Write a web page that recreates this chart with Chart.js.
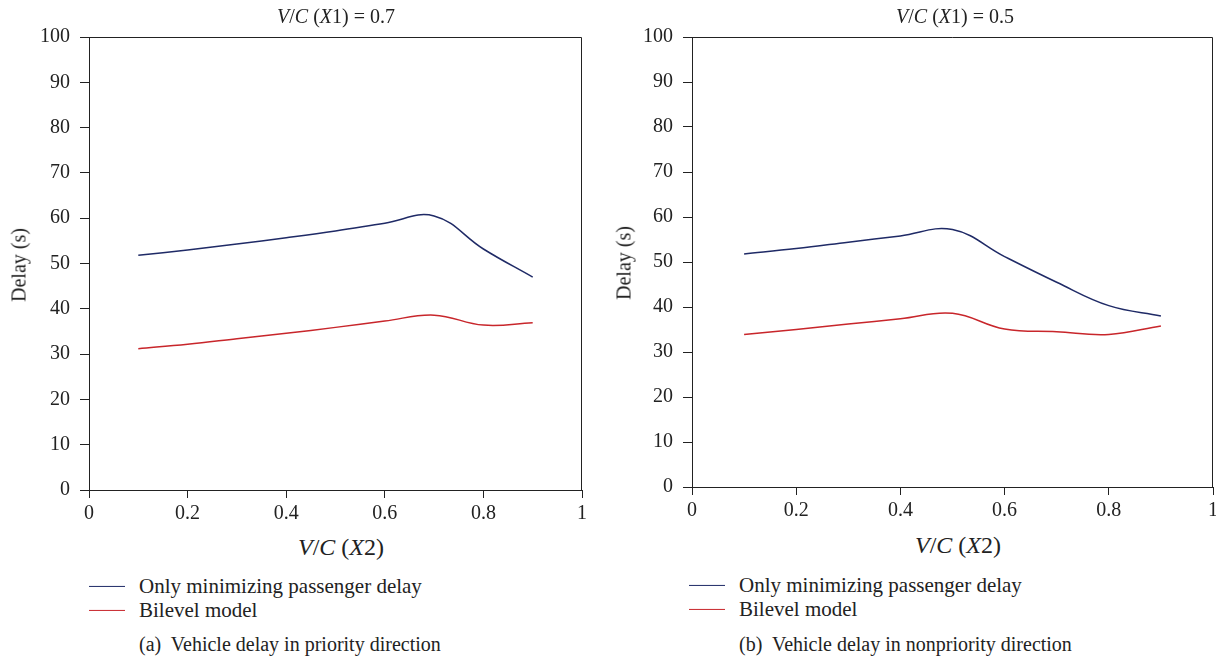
<!DOCTYPE html>
<html>
<head>
  <title>Vehicle delay</title>
  <script src="https://cdn.jsdelivr.net/npm/chart.js"></script>
  <style>
    html, body { margin: 0; padding: 0; background: #fff; overflow: hidden; }
    body { width: 1216px; height: 660px; position: relative; font-family: "Liberation Serif", "DejaVu Serif", serif; color: #222; }
    .box { position: absolute; top: 0; }
    .txt { position: absolute; white-space: nowrap; color: #222; line-height: 1.15; }
    .ttl { font-size: 20px; transform: translate(-50%, -50%); }
    .xlab { font-size: 24px; transform: translate(-50%, -50%); }
    .ylab { font-size: 20px; transform: translate(-50%, -50%) rotate(-90deg); }
    .leg { font-size: 21px; transform: translateY(-50%); }
    .leg span.ln { position: absolute; left: 0; top: 50%; width: 36px; height: 0; border-top: 1.5px solid; }
    .leg span.tx { margin-left: 50px; }
    .cap { font-size: 20px; transform: translateY(-50%); }
    i { font-style: italic; }
  </style>
</head>
<body>
  <!-- left panel -->
  <div class="box" style="left:0; width:600px; height:530px;"><canvas id="chartA"></canvas></div>
  <div class="txt ttl" style="left:336px; top:16px;"><i>V</i>/<i>C</i> (<i>X</i>1) = 0.7</div>
  <div class="txt ylab" style="left:19px; top:265px;">Delay (s)</div>
  <div class="txt xlab" style="left:341px; top:548px;"><i>V</i>/<i>C</i> (<i>X</i>2)</div>
  <div class="txt leg" style="left:89px; top:586px;"><span class="ln" style="border-color:#1f2a66;"></span><span class="tx">Only minimizing passenger delay</span></div>
  <div class="txt leg" style="left:89px; top:610px;"><span class="ln" style="border-color:#c8262b;"></span><span class="tx">Bilevel model</span></div>
  <div class="txt cap" style="left:139px; top:644px;">(a)&nbsp; Vehicle delay in priority direction</div>

  <!-- right panel -->
  <div class="box" style="left:600px; width:640px; height:530px;"><canvas id="chartB"></canvas></div>
  <div class="txt ttl" style="left:955px; top:16px;"><i>V</i>/<i>C</i> (<i>X</i>1) = 0.5</div>
  <div class="txt ylab" style="left:624px; top:263px;">Delay (s)</div>
  <div class="txt xlab" style="left:958px; top:546px;"><i>V</i>/<i>C</i> (<i>X</i>2)</div>
  <div class="txt leg" style="left:689px; top:585px;"><span class="ln" style="border-color:#1f2a66;"></span><span class="tx">Only minimizing passenger delay</span></div>
  <div class="txt leg" style="left:689px; top:609px;"><span class="ln" style="border-color:#c8262b;"></span><span class="tx">Bilevel model</span></div>
  <div class="txt cap" style="left:739px; top:644px;">(b)&nbsp; Vehicle delay in nonpriority direction</div>

  <script>
    // V/C (X2) values
    const vcX2 = [0.1, 0.2, 0.3, 0.4, 0.5, 0.6, 0.7, 0.8, 0.9];

    // (a) priority direction, V/C (X1) = 0.7
    const passengerA = [51.8, 53.0, 54.3, 55.7, 57.2, 58.9, 60.5, 53.2, 47.0];
    const bilevelA   = [31.2, 32.2, 33.4, 34.6, 35.9, 37.3, 38.6, 36.4, 36.9];

    // (b) nonpriority direction, V/C (X1) = 0.5
    const passengerB = [51.8, 53.0, 54.4, 55.8, 57.2, 51.2, 45.5, 40.3, 38.0];
    const bilevelB   = [33.9, 35.0, 36.2, 37.4, 38.6, 35.1, 34.5, 33.9, 35.8];

    const xTicks = [0, 0.2, 0.4, 0.6, 0.8, 1];
    const yTicks = [0, 10, 20, 30, 40, 50, 60, 70, 80, 90, 100];

    const tickFont = { family: "'Liberation Serif', 'DejaVu Serif', serif", size: 20 };

    // draws top and right edges of the plot box
    const framePlugin = {
      id: 'frame',
      afterDraw(chart) {
        const a = chart.chartArea, ctx = chart.ctx;
        ctx.save();
        ctx.strokeStyle = '#222';
        ctx.lineWidth = 1;
        ctx.beginPath();
        ctx.moveTo(a.left, a.top + 0.5);
        ctx.lineTo(a.right - 0.5, a.top + 0.5);
        ctx.lineTo(a.right - 0.5, a.bottom);
        ctx.stroke();
        ctx.restore();
      }
    };

    function toPoints(ys) {
      return vcX2.map((x, i) => ({ x: x, y: ys[i] }));
    }

    function makeChart(id, pass, bil, yWidth, padRight, xHeight) {
      const ctx = document.getElementById(id).getContext('2d');
      return new Chart(ctx, {
        type: 'line',
        data: {
          datasets: [
            { label: 'Only minimizing passenger delay', data: toPoints(pass), borderColor: '#1f2a66', borderWidth: 1.5, pointRadius: 0, tension: 0.4, fill: false },
            { label: 'Bilevel model', data: toPoints(bil), borderColor: '#c8262b', borderWidth: 1.5, pointRadius: 0, tension: 0.4, fill: false }
          ]
        },
        options: {
          responsive: true,
          maintainAspectRatio: false,
          animation: false,
          layout: { padding: { left: 0, top: 37, right: padRight, bottom: 0 } },
          plugins: { legend: { display: false }, tooltip: { enabled: false } },
          scales: {
            x: {
              type: 'linear', min: 0, max: 1,
              afterBuildTicks: s => { s.ticks = xTicks.map(v => ({ value: v })); },
              afterFit: s => { s.height = xHeight; },
              ticks: { font: tickFont, color: '#222', padding: 4, maxRotation: 0, callback: v => String(v) },
              grid: { display: true, drawOnChartArea: false, drawTicks: true, tickLength: 8, color: '#222' },
              border: { display: true, color: '#222', width: 1 }
            },
            y: {
              type: 'linear', min: 0, max: 100,
              afterBuildTicks: s => { s.ticks = yTicks.map(v => ({ value: v })); },
              afterFit: s => { s.width = yWidth; },
              ticks: { font: tickFont, color: '#222', padding: 10, callback: v => String(v) },
              grid: { display: true, drawOnChartArea: false, drawTicks: true, tickLength: 9, color: '#222' },
              border: { display: true, color: '#222', width: 1 }
            }
          }
        },
        plugins: [framePlugin]
      });
    }

    makeChart('chartA', passengerA, bilevelA, 89, 18, 40);
    makeChart('chartB', passengerB, bilevelB, 92, 27, 43);
  </script>
</body>
</html>
